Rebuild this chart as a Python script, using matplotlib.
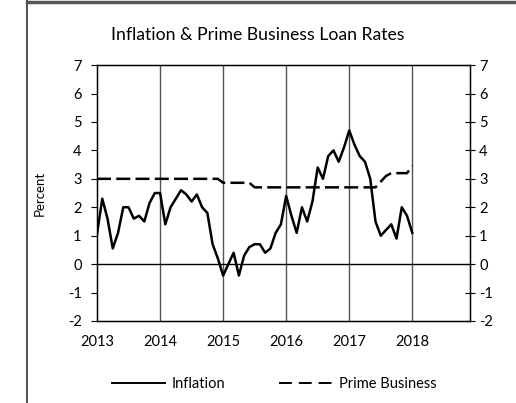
import matplotlib
matplotlib.use("Agg")
import matplotlib.pyplot as plt
from matplotlib.lines import Line2D

plt.rcParams['font.family'] = ['Lato', 'DejaVu Sans']
plt.rcParams['axes.unicode_minus'] = False

# monthly values, Jan 2013 .. Jan 2018
inflation = [1.05, 2.3, 1.6, 0.55, 1.1, 2.0, 2.0, 1.6, 1.7, 1.5, 2.15, 2.5,
             2.5, 1.4, 2.0, 2.3, 2.6, 2.45, 2.2, 2.45, 2.0, 1.8, 0.7, 0.2,
             -0.4, 0.0, 0.4, -0.4, 0.3, 0.6, 0.7, 0.7, 0.4, 0.55, 1.1, 1.4,
             2.4, 1.7, 1.1, 2.0, 1.5, 2.2, 3.4, 3.0, 3.8, 4.0, 3.6, 4.1,
             4.7, 4.2, 3.8, 3.6, 3.0, 1.5, 1.0, 1.2, 1.4, 0.9, 2.0, 1.7,
             1.1]
prime = [3.0] * 24 + [2.86] * 6 + [2.7] * 24 + [2.9, 3.1, 3.2, 3.2, 3.2, 3.2, 3.45]
years = ['2013', '2014', '2015', '2016', '2017', '2018']
months = list(range(len(inflation)))

fig = plt.figure(figsize=(5.16, 4.03), dpi=100)
ax = fig.add_axes([0.188, 0.2035, 0.723, 0.635])

for m in range(12, 61, 12):
    ax.axvline(m, color='#555555', lw=1, zorder=1)
ax.axhline(0, color='black', lw=1, zorder=1)

l1, = ax.plot(months, inflation, color='black', lw=1.8, zorder=3)
l2, = ax.plot(months, prime, color='black', lw=1.8, dashes=(5.6, 2.1), zorder=3)

ax.set_xlim(0, 71)
ax.set_ylim(-2, 7)
ax.set_yticks(range(-2, 8))
ax.set_xticks(range(0, 61, 12))
ax.set_xticklabels(years)
ax.tick_params(axis='x', length=0, pad=10, labelsize=10.5)
ax.tick_params(axis='y', direction='out', length=4, pad=7, labelsize=10.5)
for s in ax.spines.values():
    s.set_linewidth(1)

# right-hand copy of the percent scale
ax2 = ax.twinx()
ax2.set_ylim(-2, 7)
ax2.set_yticks(range(-2, 8))
ax2.tick_params(axis='y', direction='inout', length=7, pad=3, labelsize=10.5)

ax.set_ylabel('Percent', fontsize=9.5, labelpad=16)
fig.text(0.5, 0.913, 'Inflation & Prime Business Loan Rates', ha='center',
         va='center', fontsize=12.7)

leg = fig.legend([l1, l2], ['Inflation', 'Prime Business'], loc='center',
                 bbox_to_anchor=(0.532, 0.048), ncol=2, frameon=False,
                 fontsize=10.5, handlelength=3.6, columnspacing=3.7,
                 handletextpad=0.5)
for h in leg.get_lines():
    h.set_linewidth(1.4)
leg.get_lines()[1].set_dashes((6.6, 3.6))

# frame pieces from the source screenshot
fig.add_artist(Line2D([27 / 516, 27 / 516], [0, 1], color='#333333', lw=1.2))
fig.add_artist(Line2D([27 / 516, 1], [0.994, 0.994], color='#555555', lw=2.5))

fig.savefig('out.png', dpi=100)
